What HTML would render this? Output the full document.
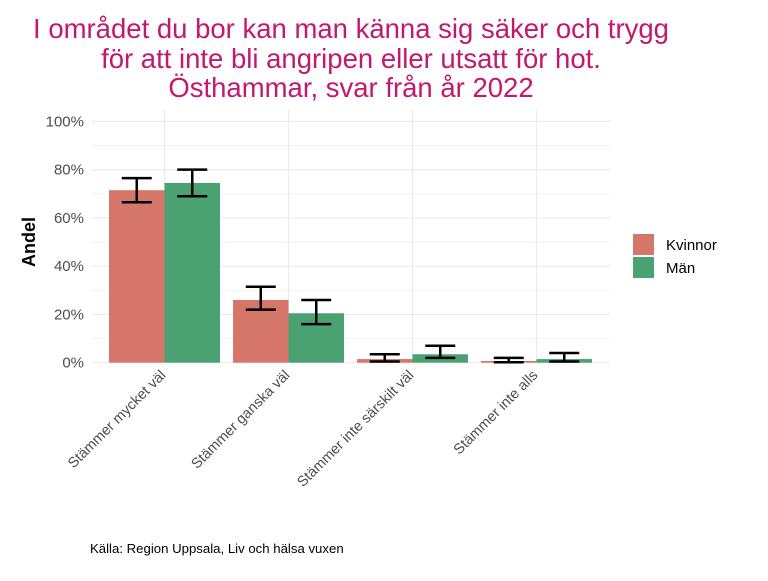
<!DOCTYPE html>
<html><head><meta charset="utf-8"><style>
body{margin:0;background:#fff;font-family:"Liberation Sans",sans-serif}
</style></head><body>
<svg id="chart" width="768" height="576" xmlns="http://www.w3.org/2000/svg">
<g fill="#c2186e" font-size="27.5" text-anchor="middle">
<text x="351" y="38">I området du bor kan man känna sig säker och trygg</text>
<text x="351" y="68">för att inte bli angripen eller utsatt för hot.</text>
<text x="351" y="97">Östhammar, svar från år 2022</text>
</g>
<g id="grid"></g><g id="bars"></g><g id="errs"></g><g id="axes"></g>
<text transform="translate(35,242) rotate(-90)" text-anchor="middle" font-size="18" font-weight="bold">Andel</text>
<g font-size="15">
<rect x="633" y="234" width="21" height="21" fill="#d6766a"/>
<text x="666" y="250">Kvinnor</text>
<rect x="633" y="257" width="21" height="21" fill="#4aa272"/>
<text x="666" y="273">Män</text>
</g>
<text x="90" y="553" font-size="13.2">Källa: Region Uppsala, Liv och hälsa vuxen</text>
</svg>
<script>
const categories=["Stämmer mycket väl","Stämmer ganska väl","Stämmer inte särskilt väl","Stämmer inte alls"];
const kvinnor=[71.5,26,1.5,0.7];
const man=[74.5,20.5,3.5,1.5];
const kLow=[66.5,22,0.5,0.2];
const kHigh=[76.5,31.5,3.5,2];
const mLow=[69,16,2,0.5];
const mHigh=[80,26,7,4];
const yTicks=[0,20,40,60,80,100];
const yTickLabels=["0%","20%","40%","60%","80%","100%"];
const NS="http://www.w3.org/2000/svg";
const y=v=>362.7-v*2.413;
const x=i=>164.5+i*124;
const bw=55.5;
function mk(p,t,a){const e=document.createElementNS(NS,t);for(const k in a)e.setAttribute(k,a[k]);document.getElementById(p).appendChild(e);return e;}
for(let v=10;v<=110;v+=20){if(v>105)break;const l=mk("grid","line",{x1:92,x2:610,y1:y(v),y2:y(v),stroke:"#f2f2f2","stroke-width":1});

}
yTicks.forEach((v,i)=>{const l=mk("grid","line",{x1:92,x2:610,y1:y(v),y2:y(v),stroke:"#ebebeb","stroke-width":1.2});


const t=mk("axes","text",{x:84,y:y(v)+5,"text-anchor":"end","font-size":15,fill:"#4d4d4d"});t.textContent=yTickLabels[i];

});
categories.forEach((c,i)=>{const l=mk("grid","line",{x1:x(i),x2:x(i),y1:110,y2:363,stroke:"#ebebeb","stroke-width":1.2});


const t=mk("axes","text",{transform:`translate(${x(i)+2},${376}) rotate(-45)`,"text-anchor":"end","font-size":14.5,fill:"#4d4d4d"});t.textContent=c;


[[kvinnor,kLow,kHigh,"#d6766a",-1],[man,mLow,mHigh,"#4aa272",0]].forEach(([vals,lo,hi,col,off])=>{
const bx=x(i)+off*bw;
const r=mk("bars","rect",{x:bx,y:y(vals[i]),width:bw,height:y(0)-y(vals[i]),fill:col});


const cx=bx+bw/2;
const g=mk("errs","path",{d:`M${cx-15},${y(hi[i])}H${cx+15}M${cx},${y(hi[i])}V${y(lo[i])}M${cx-15},${y(lo[i])}H${cx+15}`,stroke:"#000","stroke-width":2.5,fill:"none"});


});});
</script>
</body></html>
